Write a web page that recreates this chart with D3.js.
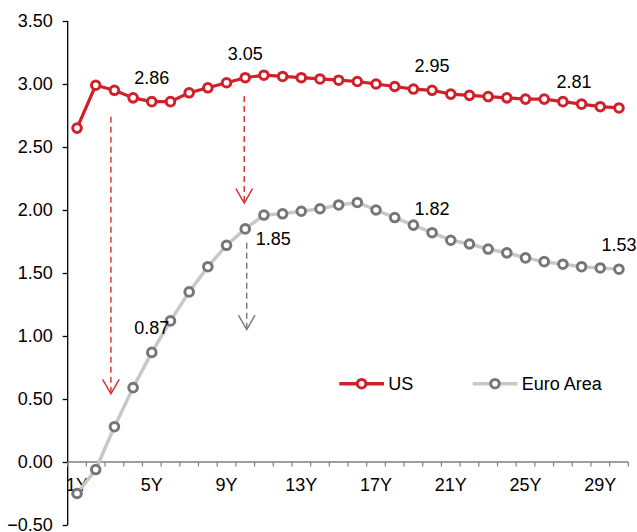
<!DOCTYPE html>
<html>
<head>
<meta charset="utf-8">
<script src="https://cdn.jsdelivr.net/npm/d3@7"></script>
<style>
  html, body { margin: 0; padding: 0; background: #fff; }
  svg { display: block; font-family: "Liberation Sans", Arial, sans-serif; }
</style>
</head>
<body>
<svg id="chart" width="637" height="532"></svg>
<script>
// Tenors 1Y..30Y
const tenors = d3.range(1, 31).map(d => d + "Y");
const tickLabels = ["1Y", "5Y", "9Y", "13Y", "17Y", "21Y", "25Y", "29Y"];
const yTicks = [-0.5, 0, 0.5, 1, 1.5, 2, 2.5, 3, 3.5];

// Yield curves (%)
const usValues = [2.65, 2.99, 2.95, 2.89, 2.86, 2.86, 2.93, 2.97, 3.01, 3.05,
                  3.07, 3.06, 3.05, 3.04, 3.03, 3.02, 3.00, 2.98, 2.96, 2.95,
                  2.92, 2.91, 2.90, 2.89, 2.88, 2.88, 2.86, 2.84, 2.82, 2.81];
const euroValues = [-0.25, -0.06, 0.28, 0.59, 0.87, 1.12, 1.35, 1.55, 1.72, 1.85,
                    1.96, 1.97, 1.99, 2.01, 2.04, 2.06, 2.00, 1.94, 1.88, 1.82,
                    1.76, 1.73, 1.69, 1.66, 1.62, 1.59, 1.57, 1.55, 1.54, 1.53];

// Value callouts: [tenor, value, dx, dy]
const usCallouts = [["5Y", 2.86, 0, -18], ["10Y", 3.05, 0, -18], ["20Y", 2.95, 0, -18], ["30Y", 2.81, -45, -20]];
const euroCallouts = [["5Y", 0.87, 0, -18], ["10Y", 1.85, 28, 16], ["20Y", 1.82, 0, -18], ["30Y", 1.53, 0, -18]];

// Dashed spread arrows: [tenor, dx, fromValue, toValue, colour]
const arrows = [["3Y", -3.5, 2.74, 0.54, "#d42a2a"],
                ["10Y", -1, 2.905, 2.055, "#d42a2a"],
                ["10Y", 1.5, 1.74, 1.05, "#777777"]];

const RED = "#d0202a";
const GREY_LINE = "#c8c8c8";
const GREY_MARK = "#767676";
const FONT = "18px";

const svg = d3.select("#chart");
const plotLeft = 67.7, plotRight = 628.3, plotTop = 21, plotBottom = 525;

const x = d3.scaleBand().domain(tenors).range([plotLeft, plotRight]).padding(0);
const y = d3.scaleLinear().domain([-0.5, 3.5]).range([plotBottom, plotTop]);
const cx = t => x(t) + x.bandwidth() / 2;

// Y axis
const yAxis = svg.append("g")
  .attr("transform", `translate(${plotLeft},0)`)
  .call(d3.axisLeft(y).tickValues(yTicks).tickFormat(d3.format(".2f")).tickSize(5).tickPadding(10));
yAxis.select(".domain").attr("stroke", "#000").attr("stroke-width", 1.3).attr("d", `M0,${plotTop}V${plotBottom}`);
yAxis.selectAll(".tick line").attr("stroke", "#000").attr("stroke-width", 1.3);
yAxis.selectAll(".tick text").attr("font-size", FONT).attr("fill", "#000");

// X axis along zero
const y0 = y(0);
const xg = svg.append("g");
xg.append("line").attr("x1", plotLeft).attr("x2", plotRight).attr("y1", y0).attr("y2", y0)
  .attr("stroke", "#7f7f7f").attr("stroke-width", 1.3);
xg.selectAll("line.tk").data(d3.range(0, tenors.length + 1)).enter().append("line")
  .attr("class", "tk")
  .attr("x1", i => plotLeft + i * x.step()).attr("x2", i => plotLeft + i * x.step())
  .attr("y1", y0).attr("y2", y0 + 4.5)
  .attr("stroke", "#7f7f7f").attr("stroke-width", 1.2);
xg.selectAll("text").data(tickLabels).enter().append("text")
  .attr("x", d => cx(d)).attr("y", y0 + 29)
  .attr("text-anchor", "middle").attr("font-size", FONT).attr("fill", "#000")
  .text(d => d);

// Arrows
const arrowG = svg.append("g");
arrows.forEach(([t, dx, v0, v1, col]) => {
  const ax = cx(t) + dx;
  const ya = y(v0), yb = y(v1);
  arrowG.append("line").attr("x1", ax).attr("x2", ax).attr("y1", ya).attr("y2", yb - 2)
    .attr("stroke", col).attr("stroke-width", 1.4).attr("stroke-dasharray", "6,4");
  arrowG.append("path")
    .attr("d", `M${ax - 8.3},${yb - 14.5}L${ax},${yb}L${ax + 8.3},${yb - 14.5}`)
    .attr("fill", "none").attr("stroke", col).attr("stroke-width", 1.4);
});

// Lines
const line = d3.line().x((d, i) => cx(tenors[i])).y(d => y(d));
function series(values, lineColor, markColor, lw) {
  const g = svg.append("g");
  g.append("path").datum(values).attr("d", line)
    .attr("fill", "none").attr("stroke", lineColor).attr("stroke-width", lw)
    .attr("stroke-linejoin", "round");
  g.selectAll("circle").data(values).enter().append("circle")
    .attr("cx", (d, i) => cx(tenors[i])).attr("cy", d => y(d)).attr("r", 4.3)
    .attr("fill", "#fff").attr("stroke", markColor).attr("stroke-width", 3);
}
series(euroValues, GREY_LINE, GREY_MARK, 3.5);
series(usValues, RED, RED, 3.2);

// Callouts
function callouts(list) {
  svg.append("g").selectAll("text").data(list).enter().append("text")
    .attr("x", d => cx(d[0]) + d[2]).attr("y", d => y(d[1]) + d[3])
    .attr("text-anchor", "middle").attr("font-size", FONT).attr("fill", "#000")
    .text(d => d[1].toFixed(2));
}
callouts(usCallouts);
callouts(euroCallouts);

// Legend
const legend = [["US", RED, RED, 339.3], ["Euro Area", GREY_LINE, GREY_MARK, 472.7]];
const ly = 383.7;
const lg = svg.append("g");
legend.forEach(([name, lc, mc, lx]) => {
  lg.append("line").attr("x1", lx).attr("x2", lx + 44.7).attr("y1", ly).attr("y2", ly)
    .attr("stroke", lc).attr("stroke-width", 3.5);
  lg.append("circle").attr("cx", lx + 22.3).attr("cy", ly).attr("r", 4.3)
    .attr("fill", "#fff").attr("stroke", mc).attr("stroke-width", 3);
  lg.append("text").attr("x", lx + 49).attr("y", ly).attr("dy", "0.35em")
    .attr("font-size", FONT).attr("fill", "#000").text(name);
});
</script>
</body>
</html>
